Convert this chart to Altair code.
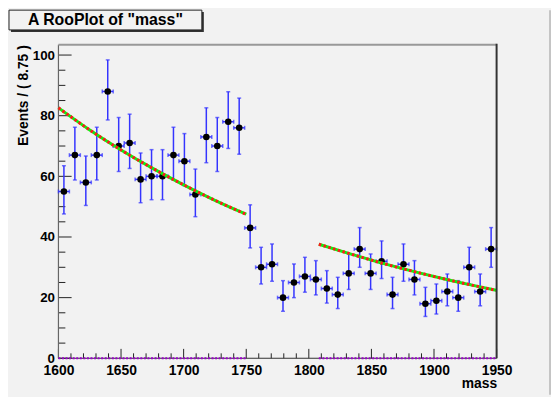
import altair as alt
import pandas as pd

FONT = "Liberation Sans"

# ---- data ----
bin_centers = [1604.375, 1613.125, 1621.875, 1630.625, 1639.375, 1648.125, 1656.875, 1665.625,
               1674.375, 1683.125, 1691.875, 1700.625, 1709.375, 1718.125, 1726.875, 1735.625,
               1744.375, 1753.125, 1761.875, 1770.625, 1779.375, 1788.125, 1796.875, 1805.625,
               1814.375, 1823.125, 1831.875, 1840.625, 1849.375, 1858.125, 1866.875, 1875.625,
               1884.375, 1893.125, 1901.875, 1910.625, 1919.375, 1928.125, 1936.875, 1945.625]
counts = [55, 67, 58, 67, 88, 70, 71, 59, 60, 60, 67, 65, 54, 73, 70, 78, 76,
          43, 30, 31, 20, 25, 27, 26, 23, 21, 28, 36, 28, 32, 21, 31, 26, 18, 19, 22, 20, 30, 22, 36]
err_lo = [47.6, 58.8, 50.4, 58.8, 78.6, 61.6, 62.6, 51.3, 52.3, 52.3, 58.8, 56.9, 46.7, 64.5, 61.6, 69.2, 67.3,
          36.4, 24.5, 25.4, 15.5, 20.0, 21.8, 20.9, 18.2, 16.4, 22.7, 30.0, 22.7, 26.3, 16.4, 25.4, 20.9,
          13.8, 14.6, 17.3, 15.5, 24.5, 17.3, 30.0]
err_hi = [63.5, 76.2, 66.7, 76.2, 98.4, 79.4, 80.5, 67.7, 68.8, 68.8, 76.2, 74.1, 62.4, 82.6, 79.4, 87.9, 85.8,
          50.6, 36.6, 37.7, 25.6, 31.1, 33.3, 32.2, 28.9, 26.7, 34.4, 43.1, 34.4, 38.7, 26.7, 37.7, 32.2,
          23.4, 24.5, 27.8, 25.6, 36.6, 27.8, 43.1]
half_width = 4.375

fit_seg = [1, 1, 1, 1, 1, 1, 1, 2, 2, 2, 2, 2, 2, 2]
fit_x = [1600, 1625, 1650, 1675, 1700, 1725, 1750, 1808, 1835, 1860, 1885, 1910, 1935, 1950]
fit_y = [82.6, 75.3, 68.7, 62.7, 57.2, 52.1, 47.5, 37.6, 34.2, 31.2, 28.5, 26.0, 23.7, 22.4]

bkg_seg = [1, 1, 2, 2]
bkg_x = [1600, 1750, 1808, 1950]
bkg_y = [0, 0, 0, 0]

x_major = [1600, 1650, 1700, 1750, 1800, 1850, 1900, 1950]
x_minor = [1610, 1620, 1630, 1640, 1660, 1670, 1680, 1690, 1710, 1720, 1730, 1740,
           1760, 1770, 1780, 1790, 1810, 1820, 1830, 1840, 1860, 1870, 1880, 1890,
           1910, 1920, 1930, 1940]
y_major = [0, 20, 40, 60, 80, 100]
y_minor = [5, 10, 15, 25, 30, 35, 45, 50, 55, 65, 70, 75, 85, 90, 95]

title_text = 'A RooPlot of "mass"'
x_title = "mass"
y_title = "Events / ( 8.75 )"

W, H = 443, 317

# ---- tables ----
pts = pd.DataFrame({"x": bin_centers, "y": counts, "lo": err_lo, "hi": err_hi})
pts["xlo"] = pts["x"] - half_width
pts["xhi"] = pts["x"] + half_width
vcaps = pd.DataFrame({"x": bin_centers * 2, "y": err_lo + err_hi})
hcaps = pd.DataFrame({"x": list(pts["xlo"]) + list(pts["xhi"]), "y": counts * 2})
fit = pd.DataFrame({"seg": fit_seg, "x": fit_x, "y": fit_y})
bkg = pd.DataFrame({"seg": bkg_seg, "x": bkg_x, "y": bkg_y})
xmaj = pd.DataFrame({"x": x_major})
xmin = pd.DataFrame({"x": x_minor})
ymaj = pd.DataFrame({"y": y_major})
ymin = pd.DataFrame({"y": y_minor})
one = pd.DataFrame({"a": [0]})

xs = alt.Scale(domain=[1600, 1950], nice=False, zero=False)
ys = alt.Scale(domain=[0, 103.4], nice=False, zero=False)

x_axis = alt.Axis(values=x_major, format="d", labelFont=FONT, labelFontWeight="bold",
                  labelFontSize=14, labelColor="black", labelPadding=5, labelFlush=False,
                  labelOverlap=False, ticks=False, tickSize=0, domain=False, grid=False,
                  title=x_title, titleFont=FONT, titleFontWeight="bold", titleFontSize=14,
                  titleColor="black", titleAnchor="end", titleAlign="right",
                  titleBaseline="alphabetic", titleX=W, titleY=30)
y_axis = alt.Axis(values=y_major, format="d", labelFont=FONT, labelFontWeight="bold",
                  labelFontSize=13.5, labelColor="black", labelPadding=4, labelFlush=False,
                  labelOverlap=False, ticks=False, tickSize=0, domain=False, grid=False,
                  title=y_title, titleFont=FONT, titleFontWeight="bold", titleFontSize=14,
                  titleColor="black", titleAnchor="end", titleAlign="right",
                  titleBaseline="middle", titleAngle=270, titleX=-35.5, titleY=0)

X = lambda f="x": alt.X(f"{f}:Q", scale=xs, axis=x_axis)
Y = lambda f="y": alt.Y(f"{f}:Q", scale=ys, axis=y_axis)

TICK = "#222222"
BLUE = "#3434ff"

xt_major = alt.Chart(xmaj).mark_rule(color=TICK, strokeWidth=1).encode(
    x=X(), y=alt.value(H), y2=alt.value(H - 9.5))
xt_minor = alt.Chart(xmin).mark_rule(color=TICK, strokeWidth=1).encode(
    x=X(), y=alt.value(H), y2=alt.value(H - 5))
yt_major = alt.Chart(ymaj).mark_rule(color=TICK, strokeWidth=1).encode(
    y=Y(), x=alt.value(0), x2=alt.value(13.3))
yt_minor = alt.Chart(ymin).mark_rule(color=TICK, strokeWidth=1).encode(
    y=Y(), x=alt.value(0), x2=alt.value(7))

left_line = alt.Chart(one).mark_rule(color="#666666", strokeWidth=1.2).encode(
    x=alt.value(0), y=alt.value(0), y2=alt.value(H))
bottom_line = alt.Chart(one).mark_rule(color="#333333", strokeWidth=1.2).encode(
    x=alt.value(0), x2=alt.value(W), y=alt.value(H))
top_line = alt.Chart(one).mark_rule(color="#999999", strokeWidth=2).encode(
    x=alt.value(0), x2=alt.value(W), y=alt.value(0))
right_line = alt.Chart(one).mark_rule(color="#333333", strokeWidth=2).encode(
    x=alt.value(W), y=alt.value(-1), y2=alt.value(H))

canvas_edge = alt.Chart(one).mark_rule(color="#c4c4c4", strokeWidth=2).encode(
    x=alt.value(497), y=alt.value(-35), y2=alt.value(H + 37))

vbars = alt.Chart(pts).mark_rule(color=BLUE, strokeWidth=1.5).encode(
    x=X(), y=Y("lo"), y2="hi")
hbars = alt.Chart(pts).mark_rule(color=BLUE, strokeWidth=1.5).encode(
    x=X("xlo"), x2="xhi", y=Y())
vcap = alt.Chart(vcaps).mark_tick(color=BLUE, orient="horizontal", size=4, thickness=1.5).encode(
    x=X(), y=Y())
hcap = alt.Chart(hcaps).mark_tick(color=BLUE, orient="vertical", size=4, thickness=1.5).encode(
    x=X(), y=Y())
points = alt.Chart(pts).mark_point(shape="circle", filled=True, color="black", size=44,
                                   opacity=1).encode(x=X(), y=Y())

bkg_line = alt.Chart(bkg).mark_line(color="#9900cc", strokeWidth=2.2, strokeDash=[2, 1.6]).encode(
    x=X(), y=Y(), detail="seg:N")
fit_green = alt.Chart(fit).mark_line(color="#11ee11", strokeWidth=3, interpolate="monotone").encode(
    x=X(), y=Y(), detail="seg:N")
fit_red = alt.Chart(fit).mark_line(color="#ff1a1a", strokeWidth=3, strokeDash=[2.5, 2.5],
                                   interpolate="monotone").encode(x=X(), y=Y(), detail="seg:N")

box_shadow = alt.Chart(one).mark_rect(color="#333333").encode(
    x=alt.value(-48), x2=alt.value(147), y=alt.value(-33), y2=alt.value(-13))
box = alt.Chart(one).mark_rect(fill="#f2f2f2", stroke="#222222", strokeWidth=1).encode(
    x=alt.value(-50), x2=alt.value(145), y=alt.value(-35), y2=alt.value(-15))
box_text = alt.Chart(one).mark_text(text=title_text, font=FONT, fontWeight="bold", fontSize=16,
                                    color="black", align="center", baseline="middle").encode(
    x=alt.value(47.5), y=alt.value(-24.5))

chart = alt.layer(
    xt_major, xt_minor, yt_major, yt_minor, left_line, bottom_line,
    vbars, hbars, vcap, hcap, points,
    fit_green, fit_red, bkg_line,
    top_line, right_line, canvas_edge,
    box_shadow, box, box_text,
).properties(
    width=W, height=H,
    autosize=alt.AutoSizeParams(type="none"),
    padding={"left": 51, "top": 35, "right": 55, "bottom": 37},
    background="#f2f2f2",
).configure_view(stroke=None, fill="#f2f2f2")

chart.save("out.html", embed_options={"renderer": "svg", "actions": False})
